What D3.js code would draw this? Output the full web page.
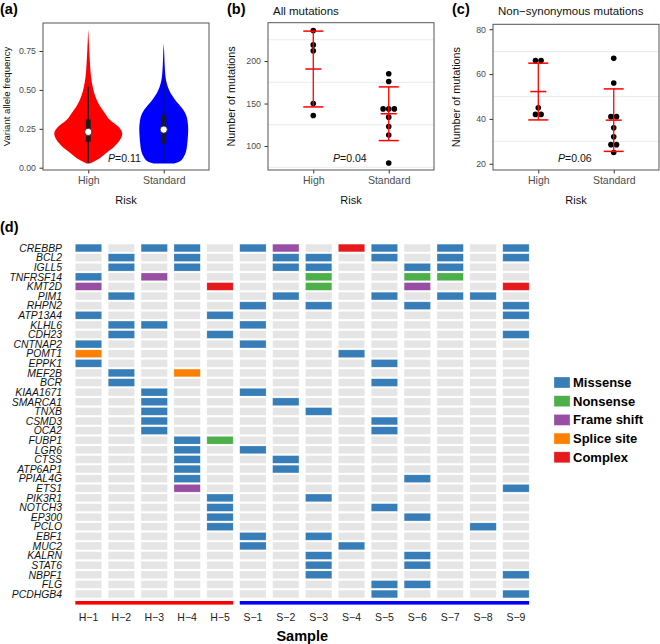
<!DOCTYPE html>
<html><head><meta charset="utf-8">
<script src="https://cdn.jsdelivr.net/npm/d3@7"></script>
<style>
body{margin:0;background:#fff;}
svg{display:block;font-family:"Liberation Sans",Arial,Helvetica,sans-serif;}
</style></head>
<body>
<svg id="chart" width="660" height="644"></svg>
<script>
// ---------- DATA ----------
const riskGroups = ["High", "Standard"];

// (a) violin profiles: VAF value and relative density (half-width)
const vafHigh = [0.027, 0.049, 0.092, 0.135, 0.178, 0.22, 0.264, 0.306, 0.35, 0.39, 0.435, 0.5, 0.585, 0.67, 0.75, 0.82, 0.89];
const densHigh = [0.05, 0.25, 0.51, 0.76, 0.93, 1.0, 0.88, 0.64, 0.49, 0.36, 0.25, 0.15, 0.08, 0.05, 0.03, 0.015, 0];
const vafStd = [0.027, 0.04, 0.07, 0.1, 0.15, 0.2, 0.25, 0.3, 0.33, 0.36, 0.39, 0.42, 0.45, 0.48, 0.52, 0.56, 0.6, 0.65, 0.7, 0.75, 0.8];
const densStd = [0.3, 0.47, 0.59, 0.65, 0.69, 0.71, 0.72, 0.70, 0.67, 0.61, 0.51, 0.39, 0.29, 0.2, 0.12, 0.07, 0.045, 0.03, 0.02, 0.012, 0];
const boxQ1 = [0.167, 0.156];
const boxMedian = [0.23, 0.245];
const boxQ3 = [0.31, 0.34];
const whiskerLo = [0.03, 0.03];
const whiskerHi = [0.52, 0.58];
const vafTicks = [0, 0.25, 0.5, 0.75];
const pA = "0.11";

// (b) all mutations per sample
const allHigh = [236, 219, 212, 150, 136];
const allStd = [185, 176, 144, 144, 143, 134, 123, 113, 80];
const allTicks = [100, 150, 200];
const allGrid = [75, 125, 175, 225];
const pB = "0.04";

// (c) non-synonymous mutations per sample
const nsHigh = [66, 66, 45, 42, 42];
const nsStd = [67, 56, 41, 41, 36, 32, 28.5, 28.5, 25];
const nsTicks = [20, 40, 60, 80];
const nsGrid = [30, 50, 70];
const pC = "0.06";

// (d) mutation landscape
const samples = ["H−1","H−2","H−3","H−4","H−5","S−1","S−2","S−3","S−4","S−5","S−6","S−7","S−8","S−9"];
const sampleGroup = ["High","High","High","High","High","Standard","Standard","Standard","Standard","Standard","Standard","Standard","Standard","Standard"];
const genes = ["CREBBP","BCL2","IGLL5","TNFRSF14","KMT2D","PIM1","RHPN2","ATP13A4","KLHL6","CDH23","CNTNAP2","POMT1","EPPK1","MEF2B","BCR","KIAA1671","SMARCA1","TNXB","CSMD3","OCA2","FUBP1","LGR6","CTSS","ATP6AP1","PPIAL4G","ETS1","PIK3R1","NOTCH3","EP300","PCLO","EBF1","MUC2","KALRN","STAT6","NBPF1","FLG","PCDHGB4"];
const mutTypes = ["Missense","Nonsense","Frame shift","Splice site","Complex"];
const mutColors = ["#377eb8","#4daf4a","#984ea3","#ff7f00","#e41a1c"];
// [gene, sample, mutation type]
const mutations = [
 ["CREBBP","H−1","Missense"],["CREBBP","H−3","Missense"],["CREBBP","H−4","Missense"],["CREBBP","S−1","Missense"],["CREBBP","S−2","Frame shift"],["CREBBP","S−4","Complex"],["CREBBP","S−5","Missense"],["CREBBP","S−7","Missense"],["CREBBP","S−9","Missense"],
 ["BCL2","H−2","Missense"],["BCL2","H−4","Missense"],["BCL2","S−2","Missense"],["BCL2","S−3","Missense"],["BCL2","S−5","Missense"],["BCL2","S−7","Missense"],["BCL2","S−9","Missense"],
 ["IGLL5","H−2","Missense"],["IGLL5","H−4","Missense"],["IGLL5","S−2","Missense"],["IGLL5","S−3","Missense"],["IGLL5","S−6","Missense"],["IGLL5","S−7","Missense"],
 ["TNFRSF14","H−1","Missense"],["TNFRSF14","H−3","Frame shift"],["TNFRSF14","S−3","Nonsense"],["TNFRSF14","S−6","Nonsense"],["TNFRSF14","S−7","Nonsense"],
 ["KMT2D","H−1","Frame shift"],["KMT2D","H−5","Complex"],["KMT2D","S−3","Nonsense"],["KMT2D","S−6","Frame shift"],["KMT2D","S−9","Complex"],
 ["PIM1","H−2","Missense"],["PIM1","S−2","Missense"],["PIM1","S−5","Missense"],["PIM1","S−7","Missense"],["PIM1","S−8","Missense"],
 ["RHPN2","S−1","Missense"],["RHPN2","S−3","Missense"],["RHPN2","S−6","Missense"],["RHPN2","S−9","Missense"],
 ["ATP13A4","H−1","Missense"],["ATP13A4","H−5","Missense"],["ATP13A4","S−9","Missense"],
 ["KLHL6","H−2","Missense"],["KLHL6","H−3","Missense"],["KLHL6","S−1","Missense"],
 ["CDH23","H−2","Missense"],["CDH23","H−5","Missense"],["CDH23","S−9","Missense"],
 ["CNTNAP2","H−1","Missense"],["CNTNAP2","S−1","Missense"],
 ["POMT1","H−1","Splice site"],["POMT1","S−4","Missense"],
 ["EPPK1","H−1","Missense"],["EPPK1","S−5","Missense"],
 ["MEF2B","H−2","Missense"],["MEF2B","H−4","Splice site"],
 ["BCR","H−2","Missense"],["BCR","S−5","Missense"],
 ["KIAA1671","H−3","Missense"],["KIAA1671","S−1","Missense"],
 ["SMARCA1","H−3","Missense"],["SMARCA1","S−2","Missense"],
 ["TNXB","H−3","Missense"],["TNXB","S−3","Missense"],
 ["CSMD3","H−3","Missense"],["CSMD3","S−5","Missense"],
 ["OCA2","H−3","Missense"],["OCA2","S−5","Missense"],
 ["FUBP1","H−4","Missense"],["FUBP1","H−5","Nonsense"],
 ["LGR6","H−4","Missense"],["LGR6","S−1","Missense"],
 ["CTSS","H−4","Missense"],["CTSS","S−2","Missense"],
 ["ATP6AP1","H−4","Missense"],["ATP6AP1","S−2","Missense"],
 ["PPIAL4G","H−4","Missense"],["PPIAL4G","S−6","Missense"],
 ["ETS1","H−4","Frame shift"],["ETS1","S−9","Missense"],
 ["PIK3R1","H−5","Missense"],["PIK3R1","S−3","Missense"],
 ["NOTCH3","H−5","Missense"],["NOTCH3","S−5","Missense"],
 ["EP300","H−5","Missense"],["EP300","S−6","Missense"],
 ["PCLO","H−5","Missense"],["PCLO","S−8","Missense"],
 ["EBF1","S−1","Missense"],["EBF1","S−3","Missense"],
 ["MUC2","S−1","Missense"],["MUC2","S−4","Missense"],
 ["KALRN","S−3","Missense"],["KALRN","S−6","Missense"],
 ["STAT6","S−3","Missense"],["STAT6","S−6","Missense"],
 ["NBPF1","S−3","Missense"],["NBPF1","S−9","Missense"],
 ["FLG","S−5","Missense"],["FLG","S−6","Missense"],
 ["PCDHGB4","S−5","Missense"],["PCDHGB4","S−9","Missense"]
];

// ---------- DRAWING ----------
const svg = d3.select("#chart");
const tickCol = "#4d4d4d", boxCol = "#555";

function panelFrame(x0, x1, y0, y1, yScale, ticks, grid, tickFmt, letter, letterX, title, ylab, ylabX) {
  const g = svg.append("g");
  const xs = d3.scalePoint().domain(riskGroups).range([x0, x1]).padding(0.6);
  if (grid) grid.forEach(v => g.append("line").attr("x1", x0).attr("x2", x1)
      .attr("y1", yScale(v)).attr("y2", yScale(v)).attr("stroke", "#ebebeb").attr("stroke-width", 1));
  const ya = svg.append("g").attr("transform", `translate(${x0},0)`)
    .call(d3.axisLeft(yScale).tickValues(ticks).tickFormat(tickFmt).tickSize(3.5).tickPadding(3.5));
  ya.select(".domain").remove();
  ya.selectAll("line").attr("stroke", "#333");
  ya.selectAll("text").attr("fill", tickCol).attr("font-size", "8.8px");
  const xa = svg.append("g").attr("transform", `translate(0,${y1})`)
    .call(d3.axisBottom(xs).tickSize(3.5).tickPadding(3));
  xa.select(".domain").remove();
  xa.selectAll("line").attr("stroke", "#333");
  xa.selectAll("text").attr("fill", tickCol).attr("font-size", "10.5px");
  svg.append("text").attr("x", (x0 + x1) / 2).attr("y", 204).attr("text-anchor", "middle")
    .attr("font-size", "11px").attr("fill", "#111").text("Risk");
  svg.append("text").attr("x", ylabX).attr("y", (y0 + y1) / 2).attr("text-anchor", "middle")
    .attr("transform", `rotate(-90,${ylabX},${(y0 + y1) / 2})`)
    .attr("font-size", ylab.length > 20 ? "9.6px" : "10.8px").attr("fill", "#111").text(ylab);
  svg.append("text").attr("x", letterX).attr("y", 14).attr("font-size", "14.5px")
    .attr("font-weight", "bold").attr("fill", "#000").text(letter);
  if (title) svg.append("text").attr("x", x0 + 5).attr("y", 15).attr("font-size", "11.5px")
    .attr("fill", "#111").text(title);
  return {g, xs, frame: () => svg.append("rect").attr("x", x0).attr("y", y0).attr("width", x1 - x0)
    .attr("height", y1 - y0).attr("fill", "none").attr("stroke", boxCol).attr("stroke-width", 1)};
}

function pLabel(x, val) {
  const t = svg.append("text").attr("x", x).attr("y", 162).attr("font-size", "10.5px").attr("fill", "#111");
  t.append("tspan").attr("font-style", "italic").text("P");
  t.append("tspan").text("=" + val);
}

// ----- (a) -----
{
  const x0 = 43, x1 = 209, y0 = 23, y1 = 170;
  const y = d3.scaleLinear().domain([-0.0148, 0.93]).range([y1, y0]);
  const P = panelFrame(x0, x1, y0, y1, y, vafTicks, null, d3.format(".2f"), "(a)", 0, null, "Variant allele frequency", 10);
  const wScale = d3.scaleLinear().domain([0, 1]).range([0, 34]);
  const profiles = [[vafHigh, densHigh, "#ff0000"], [vafStd, densStd, "#0000ff"]];
  profiles.forEach(([vs, ds, col], i) => {
    const cx = P.xs(riskGroups[i]);
    const pts = vs.map((v, k) => ({v, d: ds[k]}));
    const area = d3.area().y(d => y(d.v)).x0(d => cx - wScale(d.d)).x1(d => cx + wScale(d.d))
      .curve(d3.curveMonotoneY);
    P.g.append("path").attr("d", area(pts)).attr("fill", col);
    P.g.append("line").attr("x1", cx).attr("x2", cx).attr("y1", y(whiskerLo[i])).attr("y2", y(whiskerHi[i]))
      .attr("stroke", "#1a1a1a").attr("stroke-width", 1.3);
    P.g.append("rect").attr("x", cx - 2.4).attr("width", 4.8).attr("y", y(boxQ3[i]))
      .attr("height", y(boxQ1[i]) - y(boxQ3[i])).attr("fill", "#1a1a1a");
    P.g.append("circle").attr("cx", cx).attr("cy", y(boxMedian[i])).attr("r", 3.6)
      .attr("fill", "#fff").attr("stroke", "#1a1a1a").attr("stroke-width", 0.8);
  });
  P.frame();
  pLabel(x0 + 65, pA);
}

function dotPanel(x0, x1, y0, y1, y, ticks, grid, letter, letterX, title, ylabX, highVals, stdVals, binW, pval) {
  const P = panelFrame(x0, x1, y0, y1, y, ticks, grid, d3.format("d"), letter, letterX, title, "Number of mutations", ylabX);
  const r = 2.8;
  [highVals, stdVals].forEach((vals, i) => {
    const cx = P.xs(riskGroups[i]);
    const sorted = vals.slice().sort((a, b) => a - b);
    const bins = [];
    sorted.forEach(v => {
      const last = bins[bins.length - 1];
      if (last && v - last[0] < binW) last.push(v); else bins.push([v]);
    });
    bins.forEach(b => {
      const cy = y(d3.mean(b));
      b.forEach((v, k) => {
        P.g.append("circle").attr("cx", cx + (k - (b.length - 1) / 2) * 2 * r).attr("cy", cy)
          .attr("r", r).attr("fill", "#000");
      });
    });
    const m = d3.mean(vals), sd = d3.deviation(vals);
    const red = "#ff0000";
    P.g.append("line").attr("x1", cx).attr("x2", cx).attr("y1", y(m + sd)).attr("y2", y(m - sd))
      .attr("stroke", red).attr("stroke-width", 1.3);
    [m + sd, m - sd].forEach(v => P.g.append("line").attr("x1", cx - 10).attr("x2", cx + 10)
      .attr("y1", y(v)).attr("y2", y(v)).attr("stroke", red).attr("stroke-width", 1.5));
    P.g.append("line").attr("x1", cx - 8).attr("x2", cx + 8).attr("y1", y(m)).attr("y2", y(m))
      .attr("stroke", red).attr("stroke-width", 1.5);
  });
  P.frame();
  pLabel(x0 + 65, pval);
}

// ----- (b) -----
{
  const x0 = 268, x1 = 434, y0 = 22.7, y1 = 170;
  const y = d3.scaleLinear().domain([71.8, 245.1]).range([y1, y0]);
  dotPanel(x0, x1, y0, y1, y, allTicks, allGrid, "(b)", 227, "All mutations", 235, allHigh, allStd, 6.6, pB);
}
// ----- (c) -----
{
  const x0 = 493, x1 = 659, y0 = 24.3, y1 = 170;
  const y = d3.scaleLinear().domain([17.2, 82.2]).range([y1, y0]);
  dotPanel(x0, x1, y0, y1, y, nsTicks, nsGrid, "(c)", 452, "Non−synonymous mutations", 460, nsHigh, nsStd, 2.5, pC);
}

// ----- (d) -----
{
  const xs = d3.scaleBand().domain(samples).range([72.06, 532.4]).paddingInner(0.2).paddingOuter(0.1);
  const ys = d3.scaleBand().domain(genes).range([243.2, 598.8]).paddingInner(0.2).paddingOuter(0.1);
  const col = d3.scaleOrdinal().domain(mutTypes).range(mutColors);
  const lookup = new Map(mutations.map(m => [m[0] + "|" + m[1], m[2]]));
  svg.append("text").attr("x", 0).attr("y", 232).attr("font-size", "14.5px").attr("font-weight", "bold").text("(d)");
  const g = svg.append("g");
  genes.forEach(gene => samples.forEach(s => {
    const t = lookup.get(gene + "|" + s);
    g.append("rect").attr("x", xs(s)).attr("y", ys(gene)).attr("width", xs.bandwidth()).attr("height", ys.bandwidth())
      .attr("fill", t ? col(t) : "#e5e5e5").attr("stroke", "#fff").attr("stroke-opacity", 0.35).attr("stroke-width", 0.6);
  }));
  genes.forEach(gene => svg.append("text").attr("x", 62).attr("y", ys(gene) + ys.bandwidth() / 2)
    .attr("dy", "0.36em").attr("text-anchor", "end").attr("font-style", "italic").attr("font-size", "10.4px")
    .attr("fill", "#111").text(gene));
  ["High", "Standard"].forEach((grp, i) => {
    const ss = samples.filter((s, k) => sampleGroup[k] === grp);
    const a = xs(ss[0]), b = xs(ss[ss.length - 1]) + xs.bandwidth();
    svg.append("rect").attr("x", a).attr("y", 601).attr("width", b - a).attr("height", 3.6)
      .attr("fill", i === 0 ? "#ff0000" : "#0000ff");
  });
  samples.forEach(s => svg.append("text").attr("x", xs(s) + xs.bandwidth() / 2).attr("y", 621)
    .attr("text-anchor", "middle").attr("font-size", "10.5px").attr("fill", "#222").text(s));
  svg.append("text").attr("x", (xs(samples[0]) + xs(samples[samples.length - 1]) + xs.bandwidth()) / 2)
    .attr("y", 641).attr("text-anchor", "middle").attr("font-size", "14.5px").attr("font-weight", "bold").text("Sample");
  mutTypes.forEach((t, i) => {
    const yy = 377 + i * 18.7;
    svg.append("rect").attr("x", 554).attr("y", yy).attr("width", 16).attr("height", 11)
      .attr("fill", col(t)).attr("stroke", "#fff").attr("stroke-opacity", 0.5).attr("stroke-width", 0.6);
    svg.append("text").attr("x", 573).attr("y", yy + 10).attr("font-size", "13px")
      .attr("font-weight", "bold").attr("fill", "#000").text(t);
  });
}
</script>
</body></html>
